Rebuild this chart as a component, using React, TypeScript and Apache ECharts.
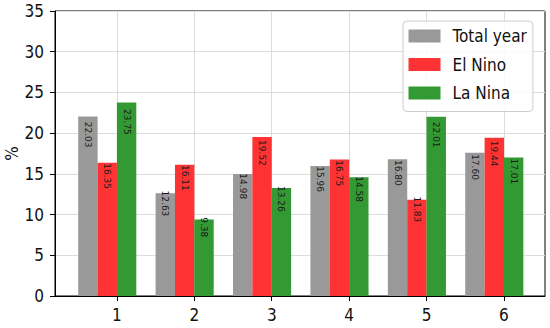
import React, { useEffect, useRef } from "react";
import * as echarts from "echarts";

const categories = [1, 2, 3, 4, 5, 6];
const totalYear = [22.03, 12.63, 14.98, 15.96, 16.8, 17.6];
const elNino = [16.35, 16.11, 19.52, 16.75, 11.83, 19.44];
const laNina = [23.75, 9.38, 13.26, 14.58, 22.01, 17.01];
const seriesNames = ["Total year", "El Nino", "La Nina"];
const seriesColors = ["#999999", "#ff3333", "#339933"];
const seriesOffsets = [-0.375, -0.125, 0.125];

const FONT = "'DejaVu Sans Condensed', 'DejaVu Sans', sans-serif";

export default function App() {
  const ref = useRef<HTMLDivElement>(null);
  useEffect(() => {
    if (!ref.current) return;
    const chart = echarts.init(ref.current, undefined, { renderer: "svg" });
    const allValues = [totalYear, elNino, laNina];
    const series = allValues.map((vals, s) => ({
      type: "bar",
      name: seriesNames[s],
      barWidth: 19.4,
      barGap: "-100%",
      itemStyle: { color: seriesColors[s] },
      data: categories.map((c, i) => [c + seriesOffsets[s], vals[i]]),
      label: {
        show: true,
        position: ["50%", "10%"],
        rotate: -90,
        align: "center",
        verticalAlign: "middle",
        fontSize: 9,
        fontFamily: "'DejaVu Sans', sans-serif",
        color: "#1a1a1a",
        formatter: (p: any) => Number(p.value[1]).toFixed(2),
      },
    }));
    chart.setOption({
      animation: false,
      grid: {
        left: 55,
        right: 5,
        top: 11,
        bottom: 32,
        containLabel: false,
        outerBoundsMode: "none",
        show: true,
        borderColor: "#000",
        borderWidth: 1,
        backgroundColor: "transparent",
      },
      legend: {
        orient: "vertical",
        left: 403,
        top: 21,
        itemWidth: 32,
        itemHeight: 13,
        itemGap: 11.5,
        padding: [6.5, 6, 10, 5.5],
        backgroundColor: "rgba(255,255,255,0.85)",
        borderColor: "#cccccc",
        borderWidth: 1,
        borderRadius: 4,
        textStyle: {
          fontSize: 17,
          lineHeight: 17,
          fontFamily: FONT,
          color: "#111",
          padding: [0, 0, 0, 7],
        },
        data: seriesNames.map((n) => ({ name: n, icon: "rect" })),
      },
      xAxis: {
        type: "value",
        min: 0.2,
        max: 6.53,
        axisLine: { show: true, lineStyle: { color: "#000", width: 1 } },
        axisTick: {
          show: true,
          length: 5,
          customValues: categories,
          lineStyle: { color: "#000" },
        },
        axisLabel: {
          customValues: categories,
          fontSize: 17,
          fontFamily: FONT,
          color: "#111",
          margin: 10,
        },
        splitLine: { show: true, lineStyle: { color: "#dcdcdc", width: 1 } },
      },
      yAxis: {
        type: "value",
        min: 0,
        max: 35,
        interval: 5,
        name: "%",
        nameLocation: "middle",
        nameGap: 35,
        nameMoveOverlap: false,
        nameTextStyle: { fontSize: 17, fontFamily: FONT, color: "#111" },
        axisLine: { show: true, lineStyle: { color: "#000", width: 1 } },
        axisTick: { show: true, length: 5, lineStyle: { color: "#000" } },
        axisLabel: {
          fontSize: 17,
          fontFamily: FONT,
          color: "#111",
          margin: 11,
        },
        splitLine: { show: true, lineStyle: { color: "#dcdcdc", width: 1 } },
      },
      series,
    });
    return () => chart.dispose();
  }, []);
  return <div ref={ref} style={{ width: 550, height: 328, position: "absolute", left: 0, top: 0 }} />;
}
